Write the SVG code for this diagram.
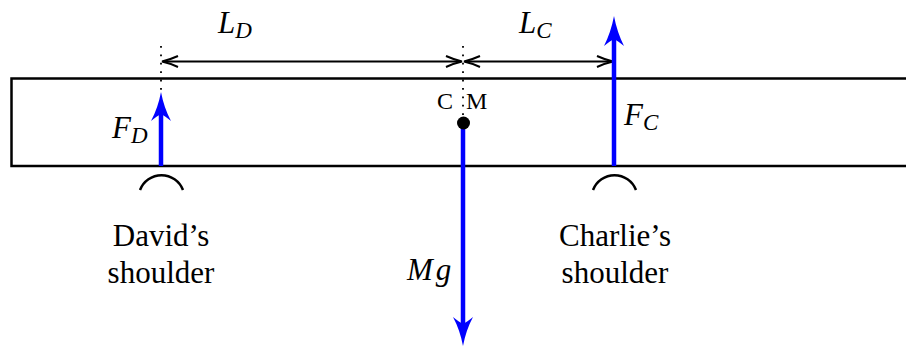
<svg xmlns="http://www.w3.org/2000/svg" width="906" height="346" viewBox="0 0 906 346">
<defs>
<style>
.ln{stroke:#000;stroke-width:2.5;fill:none}
.dim{stroke:#000;stroke-width:2;fill:none}
.dot{stroke:#000;stroke-width:1.8;fill:none;stroke-dasharray:1.8 6.6}
.f{stroke:#0000ff;stroke-width:4.5;fill:none}
.fh{fill:#0000ff;stroke:none}
text{font-family:'Liberation Serif','Times New Roman',serif;fill:#000}
.rm{font-size:31px}
.mi{font-size:31px;font-style:italic}
.sub{font-size:23px;font-style:italic}
</style>
</defs>
<rect width="906" height="346" fill="#fff"/>
<g id="beam">
<rect class="ln" x="11.5" y="78.5" width="905" height="87.5"/>
</g>
<g id="guides">
<line class="dot" x1="161" y1="46" x2="161" y2="93"/>
<line class="dot" x1="463" y1="46" x2="463" y2="116"/>
</g>
<g id="connectors">
<path class="dim" d="M163 61.5 H461"/>
<path class="dim" d="M178 56 Q169 60 162 61.5 Q169 63 178 67"/>
<path class="dim" d="M446 56 Q455 60 462 61.5 Q455 63 446 67"/>
<path class="dim" d="M465 61.5 H612"/>
<path class="dim" d="M480 56 Q471 60 464 61.5 Q471 63 480 67"/>
<path class="dim" d="M597 56 Q606 60 613 61.5 Q606 63 597 67"/>
</g>
<g id="force-FD">
<line class="f" x1="161" y1="166" x2="161" y2="112"/>
<path class="fh" d="M161 92 Q164 108 171 121 Q165 116 161 114 Q157 116 151 121 Q158 108 161 92Z"/>
</g>
<g id="force-FC">
<line class="f" x1="614" y1="166" x2="614" y2="36"/>
<path class="fh" d="M614 16 Q617 32 624 46 Q618 41 614 39 Q610 41 604 46 Q611 32 614 16Z"/>
</g>
<g id="force-Mg">
<line class="f" x1="463" y1="123" x2="463" y2="326"/>
<path class="fh" d="M463 346 Q460 330 453 317 Q459 322 463 324 Q467 322 473 317 Q466 330 463 346Z"/>
</g>
<g id="cm">
<circle cx="463.5" cy="123" r="6.5" fill="#000"/>
<text x="437" y="109" font-size="24">C</text>
<text x="466" y="109" font-size="24">M</text>
</g>
<g id="shoulder-david">
<path class="ln" d="M140 190 A23 23 0 0 1 183 190" stroke-width="2.2"/>
<text class="rm" x="161" y="246" text-anchor="middle">David’s</text>
<text class="rm" x="161" y="283" text-anchor="middle">shoulder</text>
</g>
<g id="shoulder-charlie">
<path class="ln" d="M593 190 A23 23 0 0 1 636 190" stroke-width="2.2"/>
<text class="rm" x="615" y="246" text-anchor="middle">Charlie’s</text>
<text class="rm" x="615" y="283" text-anchor="middle">shoulder</text>
</g>
<g id="labels">
<text class="mi" x="218" y="33">L<tspan class="sub" dy="5">D</tspan></text>
<text class="mi" x="519" y="33">L<tspan class="sub" dy="5">C</tspan></text>
<text class="mi" x="112" y="138">F<tspan class="sub" dy="5">D</tspan></text>
<text class="mi" x="624" y="125">F<tspan class="sub" dy="5">C</tspan></text>
<text class="mi" x="407" y="280">M<tspan dx="3">g</tspan></text>
</g>
</svg>
